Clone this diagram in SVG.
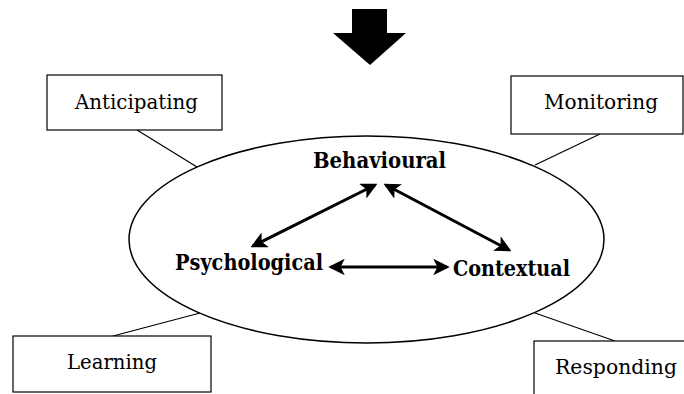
<svg xmlns="http://www.w3.org/2000/svg" width="684" height="394" viewBox="0 0 684 394">
  <defs>
    <style>
      .box { fill: #fff; stroke: #000; stroke-width: 1.2; }
      .lbl { font-family: "DejaVu Serif", "Liberation Serif", serif; font-size: 21px; fill: #000; }
      .core { font-family: "DejaVu Serif", "Liberation Serif", serif; font-size: 22px; font-weight: bold; fill: #000; }
      .link { stroke: #000; stroke-width: 1.2; fill: none; }
      .rel { stroke: #000; stroke-width: 3; fill: none; marker-start: url(#head); marker-end: url(#head); }
    </style>
    <marker id="head" viewBox="0 0 12 12" refX="10" refY="6" markerWidth="5.5" markerHeight="5.5" orient="auto-start-reverse" markerUnits="strokeWidth">
      <path d="M0,0 L12,6 L0,12 L3,6 Z" fill="#000"/>
    </marker>
  </defs>
  <rect width="684" height="394" fill="#fff"/>

  <!-- block arrow at the top -->
  <g id="down-arrow">
    <polygon points="352,9 387,9 387,33 406,33 370,65 333,33 352,33" fill="#000"/>
  </g>

  <!-- spokes from outer boxes to the ellipse, and the three relations -->
  <g id="connectors">
    <line class="link" x1="137" y1="130" x2="197" y2="167"/>
    <line class="link" x1="600" y1="134" x2="535" y2="165"/>
    <line class="link" x1="113" y1="336" x2="200" y2="313"/>
    <line class="link" x1="615" y1="341" x2="535" y2="313"/>
    <line class="rel" x1="253" y1="246" x2="375" y2="185"/>
    <line class="rel" x1="386" y1="185" x2="509" y2="250"/>
    <line class="rel" x1="331" y1="267" x2="447" y2="267"/>
  </g>

  <g id="core">
    <ellipse cx="366.5" cy="239.5" rx="237.5" ry="103.5" fill="none" stroke="#000" stroke-width="1.5"/>
  </g>

  <g id="behavioural">
    <text class="core" x="313" y="168" textLength="133" lengthAdjust="spacingAndGlyphs">Behavioural</text>
  </g>
  <g id="psychological">
    <text class="core" x="175" y="270" textLength="148" lengthAdjust="spacingAndGlyphs">Psychological</text>
  </g>
  <g id="contextual">
    <text class="core" x="453" y="276" textLength="117" lengthAdjust="spacingAndGlyphs">Contextual</text>
  </g>

  <g id="anticipating">
    <rect class="box" x="47" y="75" width="175" height="55"/>
    <text class="lbl" x="75" y="109" textLength="123" lengthAdjust="spacingAndGlyphs">Anticipating</text>
  </g>
  <g id="monitoring">
    <rect class="box" x="511" y="76" width="172" height="58"/>
    <text class="lbl" x="544" y="109" textLength="114" lengthAdjust="spacingAndGlyphs">Monitoring</text>
  </g>
  <g id="learning">
    <rect class="box" x="13" y="336" width="198" height="56"/>
    <text class="lbl" x="67" y="369" textLength="90" lengthAdjust="spacingAndGlyphs">Learning</text>
  </g>
  <g id="responding">
    <rect class="box" x="534" y="341" width="170" height="70"/>
    <text class="lbl" x="555" y="374" textLength="122" lengthAdjust="spacingAndGlyphs">Responding</text>
  </g>
</svg>
